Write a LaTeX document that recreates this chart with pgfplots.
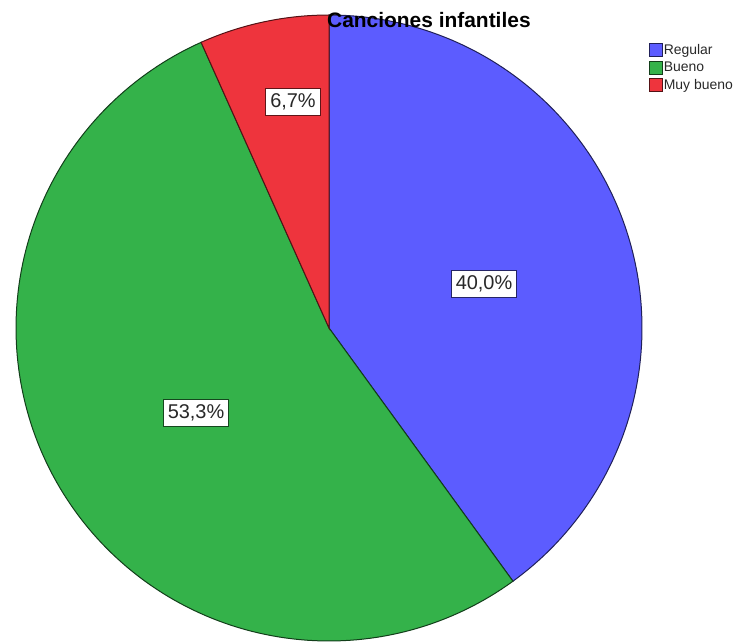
\documentclass[border=0pt]{standalone}
\usepackage{fontspec}
\setmainfont{Liberation Sans}
\usepackage{pgfplots}
\usepackage{pgfplotstable}
\pgfplotsset{compat=1.18}
\definecolor{cblue}{RGB}{92,92,255}
\definecolor{cgreen}{RGB}{52,178,74}
\definecolor{cred}{RGB}{238,52,61}
\definecolor{ctext}{RGB}{40,40,40}
\pgfplotstableread{
label pct
Regular 40.0
Bueno 53.3
Muybueno 6.7
}\piedata
\pgfplotstablegetelem{0}{pct}\of\piedata \let\vA\pgfplotsretval
\pgfplotstablegetelem{1}{pct}\of\piedata \let\vB\pgfplotsretval
\pgfplotstablegetelem{2}{pct}\of\piedata \let\vC\pgfplotsretval
\pgfmathsetmacro\aA{90}
\pgfmathsetmacro\aB{90-3.6*\vA}
\pgfmathsetmacro\aC{\aB-3.6*\vB}
\pgfmathsetmacro\aD{\aC-3.6*\vC}
\def\cx{329}\def\cy{314}\def\rr{313}
\begin{document}
\begin{tikzpicture}
\begin{axis}[
  at={(0,0)}, anchor=south west,
  scale only axis, width=735bp, height=642bp,
  xmin=0, xmax=735, ymin=0, ymax=642,
  hide axis, clip=false,
  legend style={at={(axis cs:646,602)}, anchor=north west, draw=none, fill=none,
    font=\fontsize{14}{16}\selectfont, text=ctext,
    nodes={inner sep=1bp, text height=11bp, text depth=3bp},
    row sep=1.5bp},
  legend cell align=left,
  legend image code/.code={\draw[#1, line width=0.6bp] (0bp,-6.5bp) rectangle (13bp,6.5bp);},
]
\addplot[fill=cblue, draw=cblue!35!black, line width=1bp, domain=\aB:\aA, samples=120, variable=\t]
  ({\cx+\rr*cos(\t)}, {\cy+\rr*sin(\t)}) -- (axis cs:\cx,\cy) -- cycle;
\addlegendentry{Regular}
\addplot[fill=cgreen, draw=cgreen!35!black, line width=1bp, domain=\aC:\aB, samples=150, variable=\t]
  ({\cx+\rr*cos(\t)}, {\cy+\rr*sin(\t)}) -- (axis cs:\cx,\cy) -- cycle;
\addlegendentry{Bueno}
\addplot[fill=cred, draw=cred!35!black, line width=1bp, domain=\aD:\aC, samples=30, variable=\t]
  ({\cx+\rr*cos(\t)}, {\cy+\rr*sin(\t)}) -- (axis cs:\cx,\cy) -- cycle;
\addlegendentry{Muy bueno}
\tikzset{lbl/.style={fill=white, line width=0.8bp, text=ctext, inner xsep=4.5bp, inner ysep=4bp,
  text height=15bp, text depth=4bp, font=\fontsize{20}{24}\selectfont}}
\node[lbl, draw=cblue!40!black] at (axis cs:484,358) {40,0\%};
\node[lbl, draw=cgreen!40!black] at (axis cs:196,229) {53,3\%};
\node[lbl, draw=cred!40!black] at (axis cs:293,540) {6,7\%};
\node[anchor=base west, inner sep=0pt, font=\bfseries\fontsize{21}{24}\selectfont] at (axis cs:327,614) {Canciones infantiles};
\end{axis}
\pgfresetboundingbox
\path (0,0) rectangle (735bp,642bp);
\end{tikzpicture}
\end{document}
